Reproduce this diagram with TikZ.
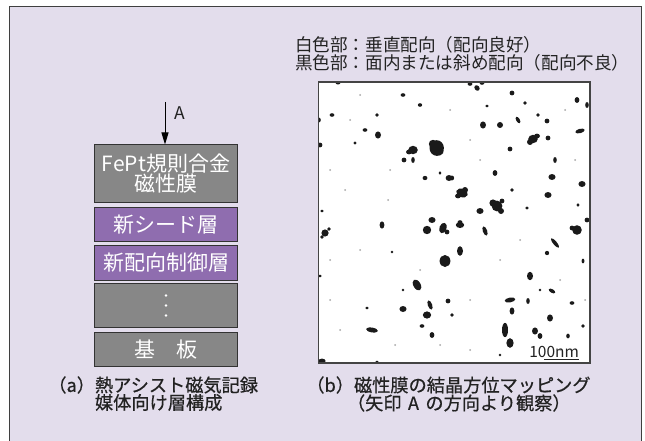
\documentclass[tikz,border=0pt]{standalone}
\usepackage{fontspec}
\setmainfont{Noto Sans CJK JP}
\newfontfamily\capfont[FakeBold=0.6]{Noto Sans CJK JP}
\usetikzlibrary{arrows.meta}
\definecolor{bgc}{HTML}{E3DDEC}
\definecolor{framec}{HTML}{3F3F3F}
\definecolor{boxgray}{HTML}{878787}
\definecolor{boxpurple}{HTML}{8F6DAF}
\definecolor{boxline}{HTML}{333333}
\definecolor{textc}{HTML}{222222}
\definecolor{mapline}{HTML}{444444}
\definecolor{blobc}{HTML}{1A1A1A}
\tikzset{
  every node/.style={inner sep=0pt, outer sep=0pt},
  layer/.style={draw=boxline, line width=1.2pt, minimum width=143pt, text=white,
    font=\fontsize{21}{21}\selectfont, align=center},
  graylayer/.style={layer, fill=boxgray},
  purplayer/.style={layer, fill=boxpurple},
  legendtxt/.style={anchor=west, font=\fontsize{17.6}{18}\selectfont, text=textc},
  captxt/.style={font=\capfont\fontsize{18.2}{18}\selectfont, text=textc},
  blob/.style={fill=blobc},
  speck/.style={fill=black!35},
}
\begin{document}
\begin{tikzpicture}[x=1pt,y=-1pt]
\useasboundingbox (0,0) rectangle (645,441);
\fill[white] (0,0) rectangle (645,441);
\begin{scope}
\clip (0,0) rectangle (645,441);
\draw[framec, fill=bgc, line width=1pt] (9.5,7) rectangle (641,460);
\end{scope}

% layer stack
\node[graylayer, minimum height=58pt] (fept) at (166,173.5) {FePt規則合金\\[-1pt]磁性膜};
\node[purplayer, minimum height=34pt] (seed) at (166,224.5) {新シード層};
\node[purplayer, minimum height=35pt] (ctrl) at (166,263) {新配向制御層};
\node[graylayer, minimum height=44pt] (dots) at (166,305.5) {};
\node[graylayer, minimum height=34pt] (sub) at (166,349.5) {基\hspace{1em}板};
\foreach \dy in {-10,0,10} \fill[white] ([yshift=-\dy pt]dots.center) circle (1.4pt);

% arrow A
\coordinate (atop) at (165,102);
\draw[line width=1pt, -{Triangle[length=12pt,width=7pt]}] (atop) -- (atop |- fept.north);
\node[font=\fontsize{17.5}{18}\selectfont, text=textc] (alabel) at (180,113) {A};

% captions (a)
\node[captxt, anchor=east] (capalab) at (95,385) {（a）};
\node[captxt, anchor=west] (capa1) at (95,385) {熱アシスト磁気記録};
\node[captxt, anchor=west] (capa2) at (95,402.5) {媒体向け層構成};

% legend
\node[legendtxt] (legw) at (295,45) {白色部：垂直配向（配向良好）};
\node[legendtxt] (legb) at (295,63) {黒色部：面内または斜め配向（配向不良）};

% map
\coordinate (mapnw) at (318.5,82);
\coordinate (mapse) at (590,363);
\fill[white] (mapnw) rectangle (mapse);
\begin{scope}
\clip (mapnw) rectangle (mapse);
\foreach \x/\y/\a/\b/\r in {
436.7/148/6/6.5/0, 433/144/3.5/3.5/0, 439/152/4/3/20, 413/150/4/3.5/0, 409/152/2.5/2/0, 404/160/2/2/0, 413/160/1.5/2.5/0,
378/135/2.5/3/0, 365/130/2/1.5/0, 332/115/2/1.5/0, 403/95/2/1.5/0, 420/105/1.8/1.5/0,
319/120/1.5/2/0, 320/145/2/2/0, 425/178/2/1.8/0, 449/178/2.8/2.5/0, 440/173/1.2/1.5/0,
432/220/3/2.5/0, 322/211/1.5/1.2/0, 338/83/2/1.2/0, 377/115/1.5/1.5/0, 355/143/1.3/1.3/0,
483/125/2.5/3/0, 500/125/2.5/2.5/0, 533/139/4/3.5/0, 530/142/2.5/2.5/0, 537/136/2.5/2/0, 510/149/2/2/0,
548/138/2/2/0, 518/120/1.5/3/30, 547/121/2/2/0, 538/115/1.5/1.5/0, 580/131/4/1.8/15,
577/100/2/2.5/0, 587/105/1.5/2.5/0, 512/93/2/2/0, 477/88/2/2.5/40, 470/84/2/1.5/0,
482/83/2/1.5/0, 525/103/1.5/1.5/0, 487/106/1.5/1.2/0, 555/160/1.5/2.5/0, 495/173/2/2.5/0,
552/177/3/2.5/0, 582/184/3/2.5/0, 462/193/5/3.5/-20, 465/190/2.5/2.5/0, 458/196/2.5/2/0, 497/206/4.5/4.5/0,
493/203/3/3/0, 501/211/2.5/2.5/0, 502/201/2/2/0, 480/211/3/2.5/0, 548/195/3/2.5/0, 527/208/1.5/1.3/0,
452/178/1.8/2/0, 512/190/1.5/1.5/0, 587/220/2/2/0, 578/205/1.3/1.5/0, 460/222/2/1.5/0,
382/225/2/3/0, 325/233/3/3/0, 329/229/1.5/1.5/0, 322/237/1.5/1.5/0, 427/230/3.5/3.5/0, 443/228/3/4.5/-20, 447/232/2/2/0,
445/261/4.5/5/0, 417/285/3/5/30, 403/309/3/2.5/0, 430/305/1.8/4/20, 427/315/3.5/3/0,
448/301/2/2/0, 372/330/5/2/-10, 422/326/2/1.5/0, 432/335/2/2.5/0, 367/308/1.5/1.2/0,
403/290/1.2/1.2/0, 392/252/1.2/1.2/0, 320/276/1.5/1.2/0, 322/361/3/2/0, 377/362/1.5/1.2/0,
460/225/3.5/2.5/0, 485/231/1.8/4/20, 460/251/2.5/4/0, 577/230/4/4/0, 572/228/2/2/0,
555/243/1.5/5/40, 547/253/1.8/1.8/0, 530/276/2.5/3.5/0, 540/290/1.2/1.2/0, 552/291/3/1.5/-30,
510/300/4.5/2/10, 528/301/1.5/2.5/0, 512/311/2/3/0, 550/318/2.5/3/0, 572/303/2/1.5/0,
505/330/2.5/6/0, 510/343/3/4/0, 535/331/2.5/3/0, 540/336/2/2.5/0, 568/336/1.5/2/0,
583/326/1.5/1.5/0, 583/261/1.2/2/0, 452/315/1.5/1.5/0, 500/355/1.2/1.2/0}
  \fill[blob] (\x,\y) ellipse[x radius={1.2*\a pt}, y radius={1.2*\b pt}, rotate=\r];
\foreach \x/\y in {330/300, 345/190, 360/250, 388/200, 470/140, 520/240, 560/280, 470/300,
  340/330, 395/345, 575/160, 500/260, 470/350, 560/350, 360/95, 450/110, 540/80, 330/170,
  350/120, 390/170, 420/270, 480/160, 565/110, 585/300, 330/260, 440/345}
  \fill[speck] (\x,\y) circle (1pt);
\end{scope}
\draw[mapline, line width=1.5pt] (mapnw) rectangle (mapse);

% scale bar
\node[anchor=east, font=\fontsize{15.5}{16}\selectfont, text=textc] (scale) at (579,352) {100nm};
\coordinate (ula) at ([xshift=-35pt, yshift=-1.5pt]scale.south east);
\coordinate (ulb) at ([yshift=-1.5pt]scale.south east);
\draw[textc, line width=1pt] (ula) -- (ulb);

% captions (b)
\node[captxt, anchor=east] (capblab) at (354,385) {（b）};
\node[captxt, anchor=west] (capb1) at (354,385) {磁性膜の結晶方位マッピング};
\node[captxt, anchor=west] (capb2) at (347,403) {（矢印\hspace{0.35em}A\hspace{0.35em}の方向より観察）};
\end{tikzpicture}
\end{document}
